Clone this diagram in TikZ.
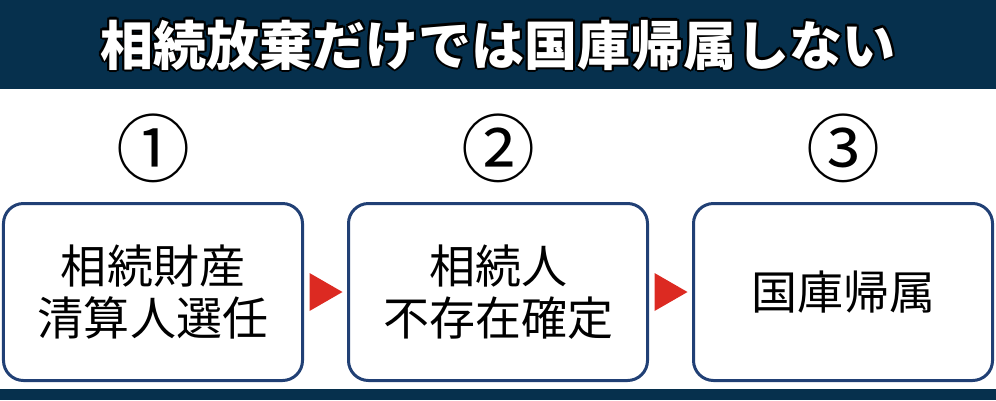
\documentclass[tikz,border=0pt]{standalone}
\usepackage{fontspec}
\newfontfamily\jpfont{Noto Sans CJK JP}
\usetikzlibrary{calc,positioning}
\definecolor{bandnavy}{RGB}{6,48,77}
\definecolor{boxblue}{RGB}{33,64,117}
\definecolor{arrowred}{RGB}{220,42,34}
\tikzset{
  stepbox/.style={draw=boxblue, line width=3bp, rounded corners=20bp,
    minimum width=299bp, minimum height=177bp, align=center,
    font=\jpfont\fontsize{46bp}{52bp}\selectfont},
  stepnum/.style={font=\jpfont\fontsize{74bp}{74bp}\selectfont},
  titletext/.style={font=\jpfont\bfseries\fontsize{53bp}{53bp}\selectfont}
}
\begin{document}
\begin{tikzpicture}[x=1bp,y=-1bp]
\useasboundingbox (0,0) rectangle (996,400);

% bands
\fill[bandnavy] (0,0) rectangle (996,89);
\fill[bandnavy] (0,389) rectangle (996,400);

% title
\coordinate (tc) at (498,45);
\foreach \a in {0,30,...,330}
  \node[titletext, black] at ([shift={(\a:2.2)}]tc) {相続放棄だけでは国庫帰属しない};
\node[titletext, white] (title) at (tc) {相続放棄だけでは国庫帰属しない};

% steps
\begin{scope}[node distance=43bp]
\node[stepbox] (b1) at (153,292) {相続財産\\清算人選任};
\node[stepbox] (b2) [right=of b1] {相続人\\不存在確定};
\node[stepbox] (b3) [right=of b2] {国庫帰属};
\end{scope}

\node[stepnum] (c1) at (b1.center |- 0,148) {①};
\node[stepnum] (c2) at (b2.center |- 0,148) {②};
\node[stepnum] (c3) at (b3.center |- 0,148) {③};

% arrows
\coordinate (m1) at ($(b1.east)!0.5!(b2.west)$);
\coordinate (m2) at ($(b2.east)!0.5!(b3.west)$);
\foreach \m in {m1,m2}
  \fill[arrowred] ($(\m)+(-16,-19)$) -- ($(\m)+(17,0)$) -- ($(\m)+(-16,19)$) -- cycle;

\end{tikzpicture}
\end{document}
